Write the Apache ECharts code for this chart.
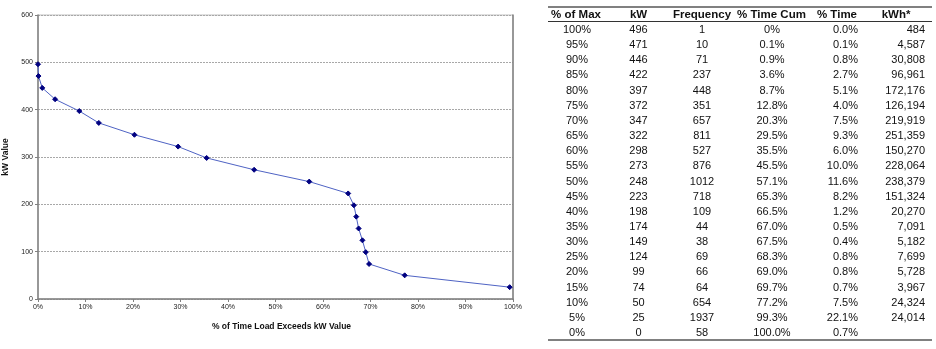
<!DOCTYPE html>
<html>
<head>
<meta charset="utf-8">
<script src="https://cdn.jsdelivr.net/npm/echarts@6/dist/echarts.min.js"></script>
<style>
html,body{margin:0;padding:0;background:#fff;}
#chart{width:936px;height:349px;}
</style>
</head>
<body>
<div id="chart"></div>
<script>
// ---- Data ----
var headers = ['% of Max', 'kW', 'Frequency', '% Time Cum', '% Time', 'kWh*'];
var pctMax = ['100%','95%','90%','85%','80%','75%','70%','65%','60%','55%','50%','45%','40%','35%','30%','25%','20%','15%','10%','5%','0%'];
var kW = [496,471,446,422,397,372,347,322,298,273,248,223,198,174,149,124,99,74,50,25,0];
var frequency = [1,10,71,237,448,351,657,811,527,876,1012,718,109,44,38,69,66,64,654,1937,58];
var pctTimeCum = ['0%','0.1%','0.9%','3.6%','8.7%','12.8%','20.3%','29.5%','35.5%','45.5%','57.1%','65.3%','66.5%','67.0%','67.5%','68.3%','69.0%','69.7%','77.2%','99.3%','100.0%'];
var pctTime = ['0.0%','0.1%','0.8%','2.7%','5.1%','4.0%','7.5%','9.3%','6.0%','10.0%','11.6%','8.2%','1.2%','0.5%','0.4%','0.8%','0.8%','0.7%','7.5%','22.1%','0.7%'];
var kWh = ['484','4,587','30,808','96,961','172,176','126,194','219,919','251,359','150,270','228,064','238,379','151,324','20,270','7,091','5,182','7,699','5,728','3,967','24,324','24,014',''];
var plottedPoints = 20; // the 0 kW row is not plotted

// ---- Build ----
var seriesData = [];
for (var i = 0; i < plottedPoints; i++) {
  seriesData.push([parseFloat(pctTimeCum[i]), kW[i]]);
}

var FONT = '"Liberation Sans", Arial, sans-serif';
var graphics = [];
var colX = [577, 638.5, 702, 772, 858, 925];
var colAlign = ['center','center','center','center','right','right'];
var headX = [576, 638.5, 702, 771.5, 857, 896];
var headAlign = ['center','center','center','center','right','center'];
for (var c = 0; c < headers.length; c++) {
  graphics.push({type:'text', x: headX[c], y: 14.5, silent:true,
    style:{text: headers[c], font: 'bold 11.5px ' + FONT, fill:'#111', align: headAlign[c], verticalAlign:'middle'}});
}
var cols = [pctMax, kW, frequency, pctTimeCum, pctTime, kWh];
for (var r = 0; r < pctMax.length; r++) {
  var y = 30 + 15.15 * r;
  for (var c2 = 0; c2 < cols.length; c2++) {
    graphics.push({type:'text', x: colX[c2], y: y, silent:true,
      style:{text: String(cols[c2][r]), font: '11px ' + FONT, fill:'#111', align: colAlign[c2], verticalAlign:'middle'}});
  }
}
graphics.push({type:'line', silent:true, shape:{x1:548,y1:7,x2:932,y2:7}, style:{stroke:'#808080', lineWidth:2}});
graphics.push({type:'line', silent:true, shape:{x1:548,y1:21.5,x2:932,y2:21.5}, style:{stroke:'#333', lineWidth:1}});
graphics.push({type:'line', silent:true, shape:{x1:548,y1:340,x2:932,y2:340}, style:{stroke:'#808080', lineWidth:2}});

var chart = echarts.init(document.getElementById('chart'), null, {renderer:'canvas'});
chart.setOption({
  animation:false,
  backgroundColor:'#fff',
  grid:{left:38, right:423, top:15, bottom:50, containLabel:false, outerBoundsMode:'none',
        show:true, borderColor:'#c0c0c0', borderWidth:1},
  xAxis:{
    type:'value', min:0, max:100, interval:10,
    name:'% of Time Load Exceeds kW Value', nameLocation:'middle', nameGap:23,
    nameTextStyle:{fontFamily:FONT, fontWeight:'bold', fontSize:8.5, color:'#111', padding:[0,0,0,12]},
    axisLine:{show:true, lineStyle:{color:'#808080', width:1.5}},
    axisTick:{show:true, length:3, lineStyle:{color:'#808080'}},
    axisLabel:{formatter:'{value}%', fontFamily:FONT, fontSize:7, color:'#222', margin:5},
    splitLine:{show:false}
  },
  yAxis:[{
    type:'value', min:0, max:600, interval:100,
    name:'kW Value', nameLocation:'middle', nameGap:25, nameRotate:90,
    nameTextStyle:{fontFamily:FONT, fontWeight:'bold', fontSize:8.5, color:'#111'},
    axisLine:{show:true, lineStyle:{color:'#808080', width:1.5}},
    axisTick:{show:true, length:3, lineStyle:{color:'#808080'}},
    axisLabel:{fontFamily:FONT, fontSize:7, color:'#222', margin:5},
    splitLine:{show:true, lineStyle:{color:'#a8a8a8', type:[2,1], width:1}}
  },{
    type:'value', min:0, max:600, interval:100, position:'right',
    axisLine:{show:true, lineStyle:{color:'#808080', width:1.5}},
    axisTick:{show:false}, axisLabel:{show:false}, splitLine:{show:false}
  }],
  series:[{
    type:'line', data: seriesData,
    symbol:'diamond', symbolSize:5,
    lineStyle:{color:'#4f63c4', width:1},
    itemStyle:{color:'#000080', borderColor:'#000080'}
  }],
  graphic: graphics
});
</script>
</body>
</html>
